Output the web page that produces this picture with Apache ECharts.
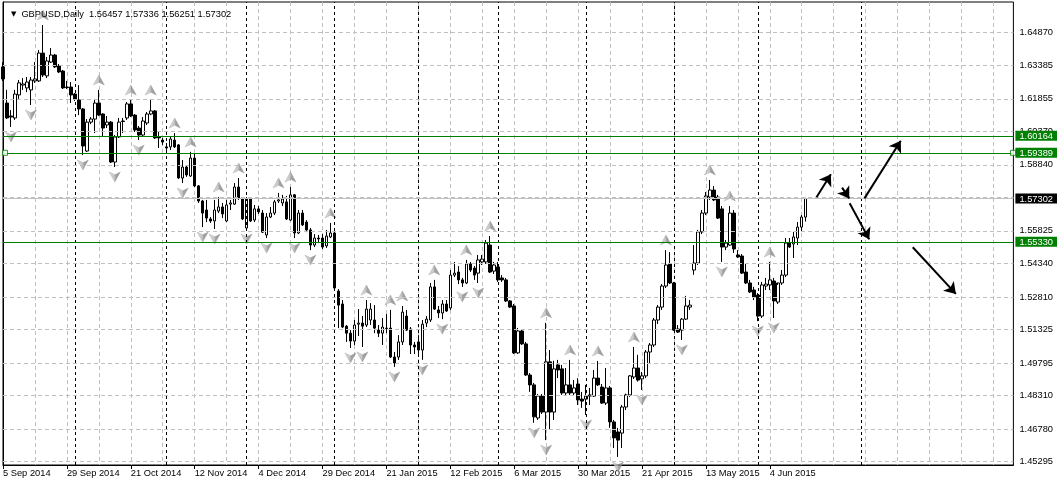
<!DOCTYPE html>
<html><head><meta charset="utf-8">
<script src="https://cdn.jsdelivr.net/npm/echarts@6/dist/echarts.min.js"></script>
<style>html,body{margin:0;padding:0;background:#fff}#c{width:1060px;height:483px}</style>
</head><body><div id="c"></div>
<script>
// ---- data (GBPUSD daily, from 5 Sep 2014) ----
const opens = [
1.6331,1.6166,1.6107,1.6098,1.6203,1.6248,1.6235,1.6226,1.6267,1.6267,
1.6394,1.6290,1.6353,1.6385,1.6335,1.6312,1.6239,1.6239,1.6207,1.6180,
1.6139,1.5947,1.6079,1.6093,1.6166,1.6116,1.6066,1.6079,1.5897,1.6011,
1.6084,1.6098,1.6162,1.6111,1.6052,1.6020,1.6075,1.6116,1.6130,1.6011,
1.5997,1.5966,1.5966,1.5997,1.5975,1.5824,1.5874,1.5833,1.5915,1.5788,
1.5719,1.5678,1.5637,1.5628,1.5673,1.5692,1.5628,1.5705,1.5705,1.5783,
1.5733,1.5596,1.5728,1.5632,1.5683,1.5664,1.5564,1.5646,1.5664,1.5719,
1.5710,1.5715,1.5632,1.5747,1.5573,1.5664,1.5623,1.5587,1.5518,1.5550,
1.5550,1.5514,1.5555,1.5573,1.5308,1.5249,1.5148,1.5116,1.5080,1.5157,
1.5162,1.5153,1.5176,1.5176,1.5130,1.5116,1.5139,1.5139,1.5007,1.5007,
1.5076,1.5194,1.5135,1.5062,1.5076,1.5039,1.5162,1.5176,1.5327,1.5222,
1.5208,1.5249,1.5231,1.5381,1.5395,1.5359,1.5345,1.5432,1.5413,1.5390,
1.5441,1.5441,1.5518,1.5399,1.5418,1.5368,1.5359,1.5263,1.5240,1.5026,
1.5126,1.5067,1.4925,1.4880,1.4729,1.4829,1.4756,1.4985,1.4756,1.4971,
1.4953,1.4843,1.4880,1.4843,1.4884,1.4815,1.4815,1.4829,1.4829,1.4911,
1.4870,1.4797,1.4866,1.4711,1.4665,1.4660,1.4779,1.4834,1.4916,1.4957,
1.4907,1.4921,1.5030,1.5062,1.5176,1.5235,1.5331,1.5432,1.5345,1.5135,
1.5130,1.5180,1.5235,1.5404,1.5436,1.5578,1.5664,1.5737,1.5769,1.5737,
1.5683,1.5509,1.5518,1.5664,1.5473,1.5468,1.5395,1.5345,1.5313,1.5290,
1.5194,1.5331,1.5336,1.5354,1.5258,1.5345,1.5381,1.5527,1.5523,1.5550,
1.5600,1.56457];
const highs = [
1.6353,1.6226,1.6134,1.6226,1.6271,1.6280,1.6285,1.6285,1.6353,1.6408,
1.6522,1.6376,1.6417,1.6390,1.6344,1.6317,1.6267,1.6262,1.6212,1.6248,
1.6143,1.6093,1.6102,1.6180,1.6226,1.6120,1.6107,1.6084,1.6020,1.6098,
1.6098,1.6171,1.6180,1.6116,1.6061,1.6102,1.6125,1.6180,1.6134,1.6034,
1.6007,1.5984,1.6011,1.6029,1.5979,1.5906,1.5883,1.5943,1.5934,1.5792,
1.5724,1.5724,1.5646,1.5724,1.5737,1.5710,1.5724,1.5724,1.5801,1.5824,
1.5737,1.5737,1.5737,1.5701,1.5696,1.5678,1.5664,1.5692,1.5724,1.5756,
1.5747,1.5742,1.5783,1.5751,1.5678,1.5678,1.5632,1.5596,1.5568,1.5564,
1.5568,1.5587,1.5619,1.5587,1.5317,1.5267,1.5153,1.5130,1.5176,1.5226,
1.5194,1.5267,1.5253,1.5244,1.5153,1.5185,1.5203,1.5222,1.5030,1.5107,
1.5240,1.5222,1.5144,1.5076,1.5107,1.5176,1.5194,1.5345,1.5359,1.5240,
1.5267,1.5267,1.5404,1.5441,1.5422,1.5368,1.5450,1.5441,1.5422,1.5473,
1.5473,1.5541,1.5559,1.5441,1.5441,1.5381,1.5368,1.5267,1.5249,1.5140,
1.5135,1.5076,1.4934,1.4889,1.4838,1.4838,1.5163,1.5039,1.4990,1.4994,
1.4971,1.4957,1.4994,1.4902,1.4911,1.4848,1.4880,1.4866,1.4948,1.4989,
1.4884,1.4957,1.4875,1.4720,1.4684,1.4788,1.4840,1.4925,1.5053,1.5017,
1.4939,1.5039,1.5071,1.5185,1.5244,1.5340,1.5495,1.5486,1.5350,1.5153,
1.5185,1.5286,1.5267,1.5518,1.5587,1.5678,1.5760,1.5815,1.5787,1.5747,
1.5696,1.5541,1.5696,1.5678,1.5495,1.5477,1.5436,1.5359,1.5327,1.5299,
1.5350,1.5368,1.5441,1.5368,1.5336,1.5404,1.5550,1.5550,1.5578,1.5623,
1.5655,1.57336];
const lows = [
1.6267,1.6093,1.6057,1.6089,1.6185,1.6226,1.6216,1.6157,1.6258,1.6262,
1.6285,1.6280,1.6349,1.6326,1.6303,1.6230,1.6230,1.6166,1.6175,1.6111,
1.5929,1.5943,1.6070,1.6029,1.6107,1.6011,1.6052,1.5892,1.5874,1.6007,
1.6029,1.6089,1.6102,1.6034,1.5997,1.6016,1.6066,1.6111,1.6002,1.5961,
1.5975,1.5952,1.5952,1.5961,1.5820,1.5801,1.5829,1.5829,1.5783,1.5710,
1.5600,1.5623,1.5619,1.5591,1.5664,1.5641,1.5623,1.5678,1.5701,1.5724,
1.5632,1.5591,1.5623,1.5623,1.5660,1.5573,1.5550,1.5641,1.5655,1.5710,
1.5696,1.5632,1.5628,1.5550,1.5568,1.5605,1.5577,1.5495,1.5509,1.5527,
1.5500,1.5505,1.5550,1.5317,1.5139,1.5139,1.5076,1.5048,1.5062,1.5103,
1.5053,1.5144,1.5153,1.5116,1.5098,1.5062,1.5116,1.5003,1.4962,1.4994,
1.5062,1.5126,1.5021,1.5021,1.5021,1.4994,1.5144,1.5167,1.5222,1.5185,
1.5180,1.5213,1.5222,1.5372,1.5340,1.5327,1.5340,1.5395,1.5359,1.5345,
1.5427,1.5432,1.5390,1.5386,1.5350,1.5350,1.5258,1.5231,1.5021,1.5021,
1.5062,1.4921,1.4848,1.4707,1.4720,1.4747,1.4628,1.4674,1.4720,1.4911,
1.4834,1.4834,1.4834,1.4834,1.4788,1.4775,1.4743,1.4788,1.4825,1.4875,
1.4793,1.4788,1.4684,1.4592,1.4551,1.4592,1.4765,1.4825,1.4907,1.4895,
1.4857,1.4911,1.4980,1.5053,1.5158,1.5222,1.5322,1.5340,1.5126,1.5117,
1.5085,1.5176,1.5222,1.5382,1.5427,1.5568,1.5655,1.5724,1.5719,1.5637,
1.5441,1.5495,1.5514,1.5482,1.5459,1.5386,1.5340,1.5299,1.5267,1.5171,
1.5185,1.5313,1.5313,1.5185,1.5249,1.5336,1.5372,1.5505,1.5459,1.5518,
1.5578,1.56251];
const closes = [
1.6276,1.6098,1.6102,1.6207,1.6258,1.6253,1.6262,1.6271,1.6276,1.6394,
1.6294,1.6358,1.6385,1.6331,1.6308,1.6235,1.6237,1.6203,1.6185,1.6139,
1.5970,1.6079,1.6093,1.6166,1.6111,1.6052,1.6079,1.5897,1.6011,1.6079,
1.6082,1.6162,1.6107,1.6043,1.6020,1.6084,1.6116,1.6130,1.6007,1.6007,
1.5988,1.5961,1.6002,1.5966,1.5824,1.5874,1.5838,1.5915,1.5788,1.5719,
1.5664,1.5641,1.5628,1.5678,1.5692,1.5660,1.5701,1.5710,1.5783,1.5733,
1.5637,1.5728,1.5628,1.5683,1.5669,1.5577,1.5646,1.5664,1.5715,1.5724,
1.5728,1.5637,1.5747,1.5573,1.5664,1.5610,1.5587,1.5518,1.5550,1.5546,
1.5509,1.5559,1.5573,1.5322,1.5244,1.5144,1.5116,1.5080,1.5153,1.5162,
1.5148,1.5226,1.5226,1.5139,1.5116,1.5144,1.5137,1.5007,1.4980,1.5076,
1.5212,1.5130,1.5062,1.5053,1.5039,1.5157,1.5180,1.5327,1.5226,1.5208,
1.5249,1.5217,1.5381,1.5390,1.5359,1.5345,1.5432,1.5404,1.5381,1.5450,
1.5454,1.5527,1.5395,1.5427,1.5359,1.5359,1.5263,1.5235,1.5026,1.5126,
1.5067,1.4925,1.4880,1.4734,1.4829,1.4756,1.4985,1.4756,1.4953,1.4948,
1.4843,1.4880,1.4843,1.4866,1.4811,1.4806,1.4829,1.4834,1.4911,1.4880,
1.4797,1.4866,1.4711,1.4638,1.4628,1.4779,1.4834,1.4921,1.4957,1.4902,
1.4921,1.5030,1.5062,1.5176,1.5235,1.5331,1.5427,1.5345,1.5130,1.5121,
1.5180,1.5240,1.5244,1.5436,1.5578,1.5664,1.5742,1.5769,1.5724,1.5641,
1.5509,1.5527,1.5664,1.5500,1.5464,1.5390,1.5345,1.5304,1.5281,1.5194,
1.5336,1.5340,1.5359,1.5263,1.5345,1.5381,1.5527,1.5509,1.5555,1.5600,
1.5646,1.57302];

const titleText = 'GBPUSD,Daily  1.56457 1.57336 1.56251 1.57302';
const tickLabels = ['5 Sep 2014','29 Sep 2014','21 Oct 2014','12 Nov 2014','4 Dec 2014','29 Dec 2014',
  '21 Jan 2015','12 Feb 2015','6 Mar 2015','30 Mar 2015','21 Apr 2015','13 May 2015','4 Jun 2015'];
const priceTicks = [1.64870,1.63385,1.61855,1.60370,1.58840,1.57355,1.55825,1.54340,1.52810,1.51325,1.49795,1.48310,1.46780,1.45295];
const levelLines = [1.60164,1.59389,1.55330];
const selectedLevel = 1.59389;
const bidPrice = 1.57302;
const periodSeps = [18,41,61,83,104,124,146,168,189,215];
const upFractals = [10,24,32,37,43,47,54,59,69,72,82,91,97,100,108,116,122,136,142,149,158,166,177,182,192];
const downFractals = [2,7,20,28,34,45,50,53,61,66,73,77,87,90,98,105,110,115,119,133,136,146,154,160,170,180,189,193];
const arrows = [
  [[203.7,1.5736],[207.3,1.5841]],
  [[210.1,1.5780],[211.9,1.5731]],
  [[212.0,1.5709],[216.9,1.5544]],
  [[215.7,1.5731],[224.8,1.5994]],
  [[227.8,1.5508],[238.6,1.5295]]
];
const SLOTS = 254;          // bars + empty future space on the time axis
const Y_MIN = 1.45144, Y_MAX = 1.66271;

// ---- build ----
const cats = [];
let d = new Date(Date.UTC(2014, 8, 5));
while (cats.length < SLOTS) {
  const wd = d.getUTCDay(), m = d.getUTCMonth(), dd = d.getUTCDate();
  if (wd !== 0 && wd !== 6 && !(m === 11 && dd === 25) && !(m === 0 && dd === 1)) cats.push(d.toISOString().slice(0, 10));
  d = new Date(d.getTime() + 86400000);
}
const ohlc = opens.map((o, i) => [o, closes[i], lows[i], highs[i]]);
const GREY = '#c0c0c0', GREEN = '#008000', FONT = 'Liberation Sans', FS = 9.3;
const fracColor = {type:'linear', x:0, y:0, x2:1, y2:0, colorStops:[
  {offset:0, color:'#dcdcdc'}, {offset:0.48, color:'#b4b4b4'}, {offset:0.52, color:'#8e8e8e'}, {offset:1, color:'#7c7c7c'}]};
const labelTick = i => i % 16 === 0 && i / 16 < tickLabels.length;

const chart = echarts.init(document.getElementById('c'), null, {renderer:'canvas'});
chart.setOption({
  animation:false,
  backgroundColor:'#fff',
  textStyle:{fontFamily:FONT},
  title:{
    text:'{t|▼}{s|' + titleText + '}', left:6, top:5,
    textStyle:{fontSize:FS, fontWeight:'normal', color:'#000', fontFamily:FONT,
      rich:{t:{fontSize:7, color:'#000', fontFamily:'DejaVu Sans', padding:[0,5,0,0]},
            s:{fontSize:FS, color:'#000', fontFamily:FONT}}}
  },
  grid:{left:3, right:43, top:2, bottom:18, show:true, borderColor:'#000', borderWidth:1, backgroundColor:'transparent'},
  xAxis:[{
    type:'category', data:cats, boundaryGap:false,
    axisLine:{lineStyle:{color:'#000', width:1}},
    axisTick:{show:true, length:4, interval:labelTick, lineStyle:{color:'#000'}},
    axisLabel:{interval:labelTick, formatter:(v, i) => tickLabels[i / 16] || '', align:'left', margin:4,
      fontSize:FS, color:'#000', fontFamily:FONT, hideOverlap:false},
    splitLine:{show:true, interval:i => i % 8 === 0 && i > 0, lineStyle:{color:GREY, type:[4,3], width:1}}
  },{
    type:'value', min:0, max:SLOTS - 1, show:false
  }],
  yAxis:[{
    type:'value', position:'right', min:Y_MIN, max:Y_MAX, scale:true,
    axisLine:{show:true, lineStyle:{color:'#000'}},
    axisTick:{show:true, length:4, customValues:priceTicks, lineStyle:{color:'#000'}},
    axisLabel:{customValues:priceTicks, formatter:v => v.toFixed(5), margin:6, fontSize:FS, color:'#000', fontFamily:FONT},
    splitLine:{show:false}
  },{
    type:'value', position:'right', min:Y_MIN, max:Y_MAX, scale:true,
    axisLine:{show:false}, axisTick:{show:false}, splitLine:{show:false},
    axisLabel:{customValues:levelLines.concat([bidPrice]), margin:2,
      formatter:v => (Math.abs(v - bidPrice) < 1e-7 ? '{b|' : '{g|') + v.toFixed(5) + '}',
      rich:{
        g:{backgroundColor:GREEN, color:'#fff', fontSize:FS, fontFamily:FONT, padding:[1,4,0,4], lineHeight:10},
        b:{backgroundColor:'#000', color:'#fff', fontSize:FS, fontFamily:FONT, padding:[1,4,0,4], lineHeight:10}
      }}
  }],
  series:[
    { // horizontal grid + period separators
      type:'line', data:[], silent:true, z:1,
      markLine:{silent:true, precision:6, symbol:['none','none'], label:{show:false}, animation:false,
        emphasis:{disabled:true},
        data: priceTicks.map(v => ({yAxis:v, lineStyle:{color:GREY, type:[4,3], width:1}}))
          .concat(periodSeps.map(i => ({xAxis:i, lineStyle:{color:'#000', type:[3,3], width:1}})))}
    },
    {
      type:'candlestick', name:'GBPUSD', data:ohlc, z:2, barWidth:3,
      itemStyle:{color:'#fff', color0:'#000', borderColor:'#000', borderColor0:'#000', borderWidth:1},
      emphasis:{disabled:true}
    },
    { // price level lines and bid line
      type:'line', data:[], silent:true, z:3,
      markLine:{silent:true, precision:6, symbol:['none','none'], label:{show:false}, animation:false,
        emphasis:{disabled:true},
        data: [{yAxis:bidPrice, lineStyle:{color:GREY, type:'solid', width:1}}]
          .concat(levelLines.map(v => ({yAxis:v, lineStyle:{color:GREEN, type:'solid', width:1}})))}
    },
    {
      type:'scatter', name:'up fractals', z:4, silent:true,
      data: upFractals.map(i => [i, highs[i]]),
      symbol:'path://M6,0 L12,11 L6,8 L0,11 Z', symbolSize:[11,10], symbolOffset:[0,-10],
      itemStyle:{color:fracColor, borderColor:'#9a9a9a', borderWidth:0.5}
    },
    {
      type:'scatter', name:'down fractals', z:4, silent:true,
      data: downFractals.map(i => [i, lows[i]]),
      symbol:'path://M0,0 L6,3 L12,0 L6,11 Z', symbolSize:[11,10], symbolOffset:[0,10],
      itemStyle:{color:fracColor, borderColor:'#9a9a9a', borderWidth:0.5}
    },
    { // drawn arrows
      type:'scatter', xAxisIndex:1, data:[], silent:true, z:5,
      markLine:{silent:true, precision:6, symbol:['none','arrow'], symbolSize:11, label:{show:false}, animation:false,
        emphasis:{disabled:true},
        lineStyle:{color:'#000', width:2, type:'solid'},
        data: arrows.map(a => [{coord:a[0]}, {coord:a[1]}])}
    },
    { // anchor squares of the selected level line
      type:'scatter', xAxisIndex:1, silent:true, z:6, clip:false,
      data:[[0.5, selectedLevel], [SLOTS - 1.1, selectedLevel]],
      symbol:'rect', symbolSize:5,
      itemStyle:{color:'#fff', borderColor:GREEN, borderWidth:1}
    }
  ]
});
</script>
</body></html>
